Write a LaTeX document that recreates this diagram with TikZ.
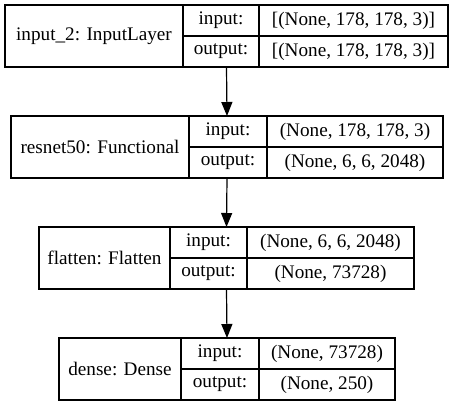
\documentclass[tikz,border=0pt]{standalone}
\usepackage{fontspec}
\setmainfont{Liberation Serif}
\usetikzlibrary{positioning, arrows.meta, calc}

\begin{document}
\begin{tikzpicture}[x=1pt, y=-1pt]
        \tikzstyle{cell}=[draw, line width=1.2pt, inner sep=0pt, outer sep=0pt, minimum height=31pt, font=\fontsize{19.2}{21}\selectfont]
        \tikzstyle{layer}=[cell, minimum height=62pt, anchor=north west]
        \tikzstyle{arrow} = [-{Triangle[length=14pt, width=11pt]}, line width=1.2pt]

        \useasboundingbox (0,0) rectangle (453,405);

        % input layer
        \node[layer, minimum width=178pt] (input) at (5,5) {input\_2: InputLayer};
        \node[cell, minimum width=76pt, anchor=north west] (inputin) at (input.north east) {input:};
        \node[cell, minimum width=76pt, below = 0pt of inputin] (inputout) {output:};
        \node[cell, minimum width=189pt, right = 0pt of inputin] (inputinval) {[(None, 178, 178, 3)]};
        \node[cell, minimum width=189pt, right = 0pt of inputout] (inputoutval) {[(None, 178, 178, 3)]};

        % resnet50
        \node[layer, minimum width=178pt] (resnet) at (11,116) {resnet50: Functional};
        \node[cell, minimum width=78pt, anchor=north west] (resnetin) at (resnet.north east) {input:};
        \node[cell, minimum width=78pt, below = 0pt of resnetin] (resnetout) {output:};
        \node[cell, minimum width=176pt, right = 0pt of resnetin] (resnetinval) {(None, 178, 178, 3)};
        \node[cell, minimum width=176pt, right = 0pt of resnetout] (resnetoutval) {(None, 6, 6, 2048)};

        % flatten
        \node[layer, minimum width=131pt] (flatten) at (39,227) {flatten: Flatten};
        \node[cell, minimum width=77pt, anchor=north west] (flattenin) at (flatten.north east) {input:};
        \node[cell, minimum width=77pt, below = 0pt of flattenin] (flattenout) {output:};
        \node[cell, minimum width=167pt, right = 0pt of flattenin] (flatteninval) {(None, 6, 6, 2048)};
        \node[cell, minimum width=167pt, right = 0pt of flattenout] (flattenoutval) {(None, 73728)};

        % dense
        \node[layer, minimum width=122pt] (dense) at (59,338) {dense: Dense};
        \node[cell, minimum width=78pt, anchor=north west] (densein) at (dense.north east) {input:};
        \node[cell, minimum width=78pt, below = 0pt of densein] (denseout) {output:};
        \node[cell, minimum width=136pt, right = 0pt of densein] (denseinval) {(None, 73728)};
        \node[cell, minimum width=136pt, right = 0pt of denseout] (denseoutval) {(None, 250)};

        \draw[arrow] ($(input.south west)!0.5!(inputoutval.south east)$) -- ($(resnet.north west)!0.5!(resnetinval.north east)$);
        \draw[arrow] ($(resnet.south west)!0.5!(resnetoutval.south east)$) -- ($(flatten.north west)!0.5!(flatteninval.north east)$);
        \draw[arrow] ($(flatten.south west)!0.5!(flattenoutval.south east)$) -- ($(dense.north west)!0.5!(denseinval.north east)$);
\end{tikzpicture}
\end{document}
